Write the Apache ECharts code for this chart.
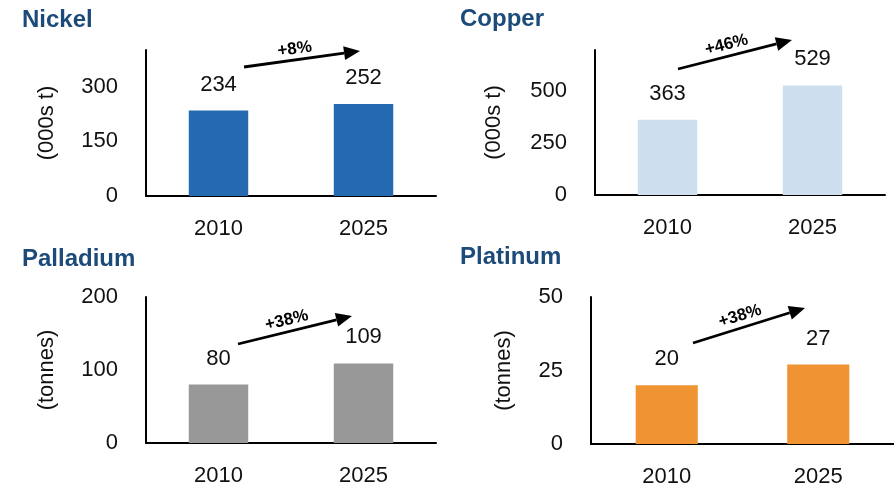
<!DOCTYPE html>
<html>
<head>
<meta charset="utf-8">
<script src="https://cdn.jsdelivr.net/npm/echarts@6/dist/echarts.min.js"></script>
<style>
  html, body { margin: 0; padding: 0; background: #fff; }
  #main { width: 894px; height: 490px; }
</style>
</head>
<body>
<div id="main"></div>
<script>
// data
const years = ['2010', '2025']
const metals = ['Nickel', 'Copper', 'Palladium', 'Platinum']
const units = ['(000s t)', '(000s t)', '(tonnes)', '(tonnes)']
const nickel = [234, 252]
const copper = [363, 529]
const palladium = [80, 109]
const platinum = [20, 27]
const changes = ['+8%', '+46%', '+38%', '+38%']
const axisMax = [400, 700, 200, 50]
const axisStep = [150, 250, 100, 25]

const values = [nickel, copper, palladium, platinum]
const colors = ['#256ab0', '#cddeee', '#989898', '#f09433']
const font = 'Liberation Sans, Arial, sans-serif'

// panel layout (px)
const grids = [
  { left: 146, top: 50, width: 290, height: 146 },
  { left: 595, top: 50, width: 290, height: 145 },
  { left: 146, top: 297, width: 290, height: 146 },
  { left: 591, top: 297, width: 303, height: 147 },
]
const titlePos = [[22, 8], [460, 7], [22, 247], [460, 245]]
const nameGaps = [88, 90, 88, 76]
// arrow start / tip
const arrows = [
  [[244, 67], [360, 51]],
  [[678, 69], [792, 40]],
  [[238, 344], [352, 316]],
  [[693, 343], [805, 308]],
]

function arrowGraphic(a, text) {
  const [x1, y1] = a[0], [x2, y2] = a[1]
  const ang = Math.atan2(y2 - y1, x2 - x1)
  const hl = 16, hw = 7
  const bx = x2 - hl * Math.cos(ang), by = y2 - hl * Math.sin(ang)
  const px = -Math.sin(ang), py = Math.cos(ang)
  const mx = (x1 + x2) / 2 - 6, my = (y1 + y2) / 2
  return [
    { type: 'line', shape: { x1, y1, x2: bx, y2: by }, style: { stroke: '#000', lineWidth: 2.8 } },
    { type: 'polygon', shape: { points: [[x2, y2], [bx + px * hw, by + py * hw], [bx - px * hw, by - py * hw]] }, style: { fill: '#000' } },
    {
      type: 'text', x: mx - px * 10, y: my - py * 10, rotation: -ang,
      style: { text, font: 'bold 17px ' + font, fill: '#000', align: 'center', verticalAlign: 'middle' },
    },
  ]
}

const chart = echarts.init(document.getElementById('main'))
chart.setOption({
  animation: false,
  textStyle: { fontFamily: font },
  title: metals.map((m, i) => ({
    text: m, left: titlePos[i][0], top: titlePos[i][1], padding: 0,
    textStyle: { fontSize: 24, fontWeight: 'bold', color: '#1c4b7a', fontFamily: font },
  })),
  grid: grids,
  xAxis: grids.map((g, i) => ({
    type: 'category', gridIndex: i, data: years,
    axisLine: { lineStyle: { color: '#000', width: 2 } },
    axisTick: { show: false },
    axisLabel: { fontSize: 22, color: '#111', margin: 22, fontFamily: font },
  })),
  yAxis: grids.map((g, i) => ({
    type: 'value', gridIndex: i, min: 0, max: axisMax[i], interval: axisStep[i],
    name: units[i], nameLocation: 'middle', nameGap: nameGaps[i],
    nameTextStyle: { fontSize: 22, color: '#111', fontFamily: font },
    axisLine: { show: true, lineStyle: { color: '#000', width: 2 } },
    axisTick: { show: false },
    splitLine: { show: false },
    axisLabel: { fontSize: 22, color: '#111', margin: 28, showMaxLabel: axisMax[i] % axisStep[i] === 0, fontFamily: font },
  })),
  series: values.map((v, i) => ({
    type: 'bar', xAxisIndex: i, yAxisIndex: i, data: v, barWidth: '41%',
    itemStyle: { color: colors[i] },
    label: { show: true, position: 'top', distance: 15, fontSize: 22, color: '#111', fontFamily: font },
  })),
  graphic: arrows.flatMap((a, i) => arrowGraphic(a, changes[i])),
})
</script>
</body>
</html>
